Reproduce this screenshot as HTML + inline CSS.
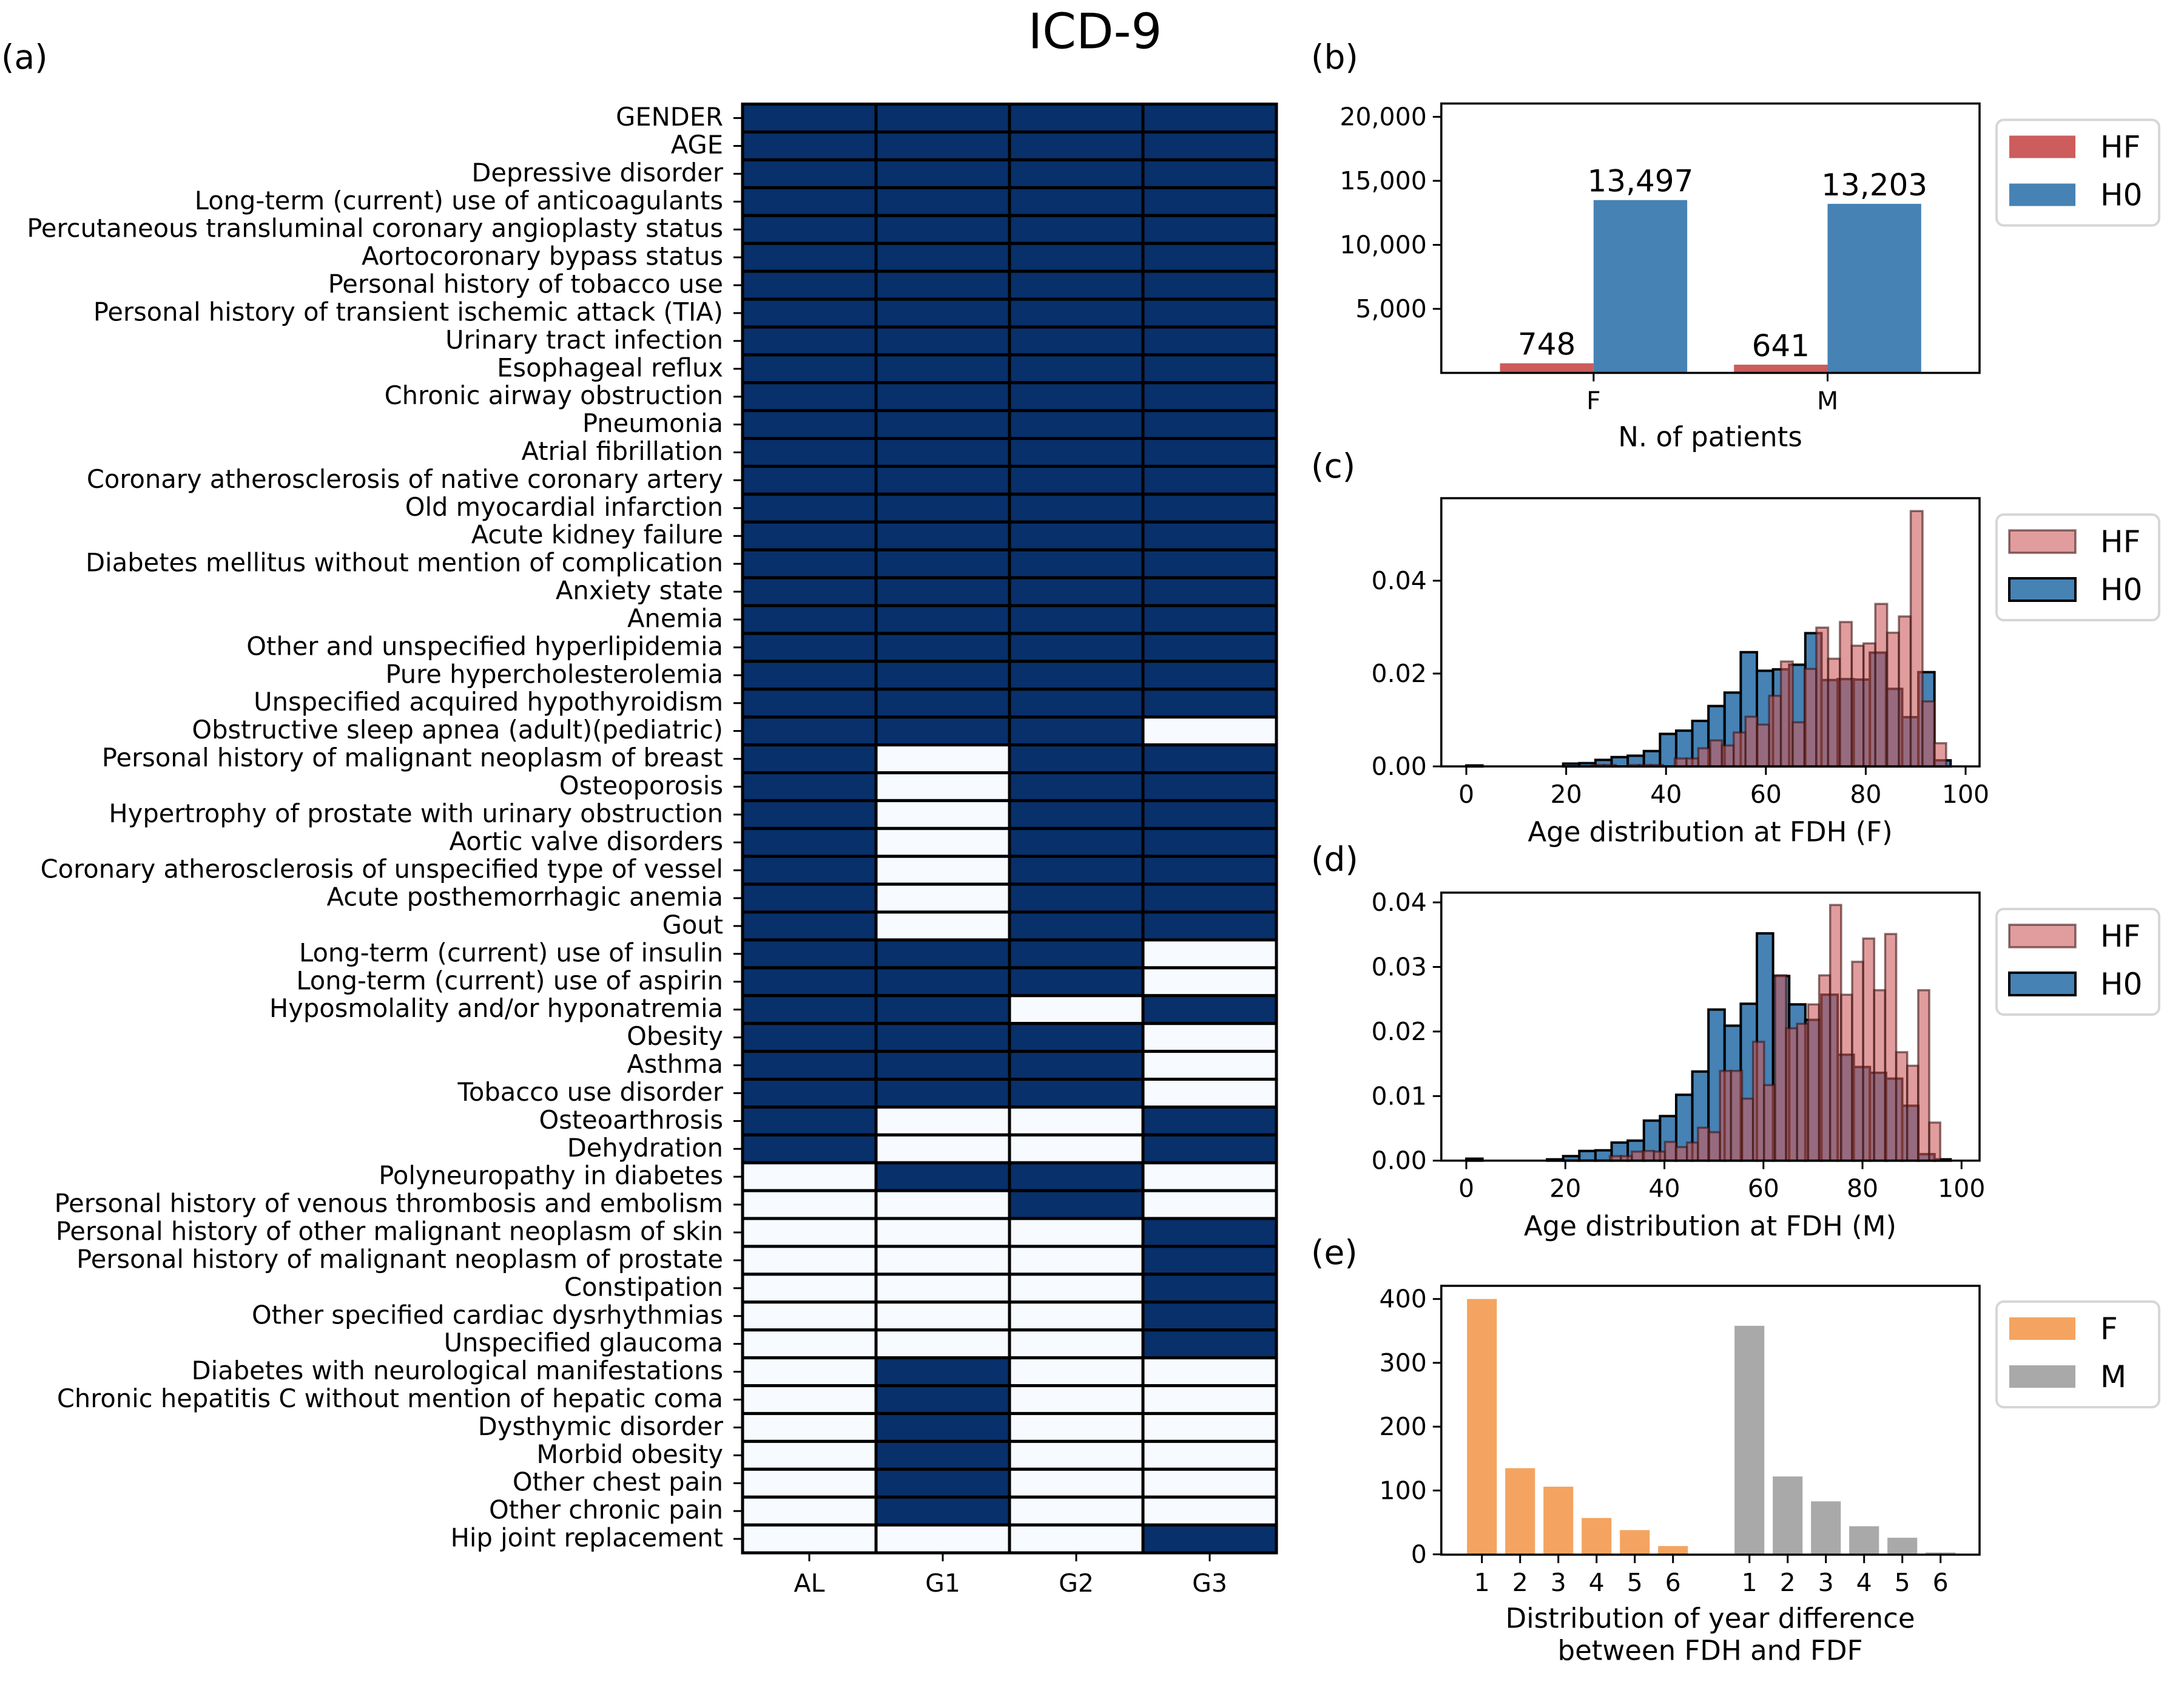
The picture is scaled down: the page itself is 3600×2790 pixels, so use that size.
<!DOCTYPE html>
<html><head><meta charset="utf-8"><style>
html,body{margin:0;padding:0;background:#fff;}
svg{display:block;}
text{font-family:"DejaVu Sans","Liberation Sans",sans-serif;fill:#000;}
</style></head><body>
<svg id="fig" xmlns="http://www.w3.org/2000/svg" width="3600" height="2790" viewBox="0 0 3600 2790">
<rect x="0" y="0" width="3600" height="2790" fill="#fff"/>
<text x="1805" y="52" font-size="80" text-anchor="middle" dominant-baseline="central">ICD-9</text>
<text x="2" y="94" font-size="55" dominant-baseline="central">(a)</text>
<text x="2161" y="94" font-size="55" dominant-baseline="central">(b)</text>
<text x="2161" y="768" font-size="55" dominant-baseline="central">(c)</text>
<text x="2161" y="1416" font-size="55" dominant-baseline="central">(d)</text>
<text x="2161" y="2064" font-size="55" dominant-baseline="central">(e)</text>
<g id="gA"></g>
<g id="gB"></g>
<g id="gC"></g>
<g id="gD"></g>
<g id="gE"></g>
</svg>
<script>
// ---------- data ----------
const rowLabels = ["GENDER","AGE","Depressive disorder","Long-term (current) use of anticoagulants","Percutaneous transluminal coronary angioplasty status","Aortocoronary bypass status","Personal history of tobacco use","Personal history of transient ischemic attack (TIA)","Urinary tract infection","Esophageal reflux","Chronic airway obstruction","Pneumonia","Atrial fibrillation","Coronary atherosclerosis of native coronary artery","Old myocardial infarction","Acute kidney failure","Diabetes mellitus without mention of complication","Anxiety state","Anemia","Other and unspecified hyperlipidemia","Pure hypercholesterolemia","Unspecified acquired hypothyroidism","Obstructive sleep apnea (adult)(pediatric)","Personal history of malignant neoplasm of breast","Osteoporosis","Hypertrophy of prostate with urinary obstruction","Aortic valve disorders","Coronary atherosclerosis of unspecified type of vessel","Acute posthemorrhagic anemia","Gout","Long-term (current) use of insulin","Long-term (current) use of aspirin","Hyposmolality and/or hyponatremia","Obesity","Asthma","Tobacco use disorder","Osteoarthrosis","Dehydration","Polyneuropathy in diabetes","Personal history of venous thrombosis and embolism","Personal history of other malignant neoplasm of skin","Personal history of malignant neoplasm of prostate","Constipation","Other specified cardiac dysrhythmias","Unspecified glaucoma","Diabetes with neurological manifestations","Chronic hepatitis C without mention of hepatic coma","Dysthymic disorder","Morbid obesity","Other chest pain","Other chronic pain","Hip joint replacement"];
const colLabels = ["AL","G1","G2","G3"];
const heatValues = [
[1,1,1,1],[1,1,1,1],[1,1,1,1],[1,1,1,1],[1,1,1,1],[1,1,1,1],[1,1,1,1],[1,1,1,1],[1,1,1,1],[1,1,1,1],[1,1,1,1],
[1,1,1,1],[1,1,1,1],[1,1,1,1],[1,1,1,1],[1,1,1,1],[1,1,1,1],[1,1,1,1],[1,1,1,1],[1,1,1,1],[1,1,1,1],[1,1,1,1],
[1,1,1,0],[1,0,1,1],[1,0,1,1],[1,0,1,1],[1,0,1,1],[1,0,1,1],[1,0,1,1],[1,0,1,1],
[1,1,1,0],[1,1,1,0],[1,1,0,1],[1,1,1,0],[1,1,1,0],[1,1,1,0],[1,0,0,1],[1,0,0,1],
[0,1,1,0],[0,0,1,0],[0,0,0,1],[0,0,0,1],[0,0,0,1],[0,0,0,1],[0,0,0,1],
[0,1,0,0],[0,1,0,0],[0,1,0,0],[0,1,0,0],[0,1,0,0],[0,1,0,0],[0,0,0,1]];

const sexCats = ["F","M"];
const hfCounts = [748, 641];
const h0Counts = [13497, 13203];
const bTicks = [5000,10000,15000,20000];

const cH0 = [0.0002,0,0,0,0,0,0.0006,0.0007,0.0014,0.002,0.0023,0.0033,0.007,0.0077,0.0098,0.013,0.0159,0.0246,0.0206,0.0209,0.0219,0.0287,0.0186,0.0188,0.0187,0.0245,0.0167,0.0106,0.0203,0.0013];
const cHF = [0.0003,0.0003,0,0.0003,0.0003,0.0003,0,0.0017,0.0017,0.0039,0.0056,0.0045,0.0073,0.0107,0.009,0.0152,0.0226,0.0095,0.021,0.0299,0.0232,0.0311,0.026,0.0265,0.035,0.0288,0.0323,0.055,0.014,0.005];
const cBins = {h0Start:0, h0End:97, hfStart:25.2, hfEnd:96.1};
const cYTicks = [0,0.02,0.04];
const dH0 = [0.0003,0,0,0,0,0.0002,0.0007,0.0015,0.0016,0.0028,0.0031,0.0062,0.0069,0.0102,0.0138,0.0234,0.0209,0.0243,0.0352,0.0286,0.0242,0.0218,0.0257,0.0164,0.0145,0.0136,0.0127,0.0085,0.001,0.0002];
const dHF = [0.0007,0.0007,0.0014,0.0015,0.0014,0.0029,0.0021,0.0028,0.0051,0.0044,0.0139,0.0139,0.0096,0.0184,0.0117,0.0287,0.0205,0.0212,0.0242,0.0287,0.0396,0.0257,0.0308,0.0344,0.0264,0.0351,0.0168,0.0147,0.0264,0.0059];
const dBins = {h0Start:0, h0End:97.8, hfStart:29.0, hfEnd:95.7};
const dYTicks = [0,0.01,0.02,0.03,0.04];
const ageTicks = [0,20,40,60,80,100];

const yearLabels = [1,2,3,4,5,6];
const yearF = [400,135,106,57,38,13];
const yearM = [358,122,83,44,26,3];
const eYTicks = [0,100,200,300,400];

// ---------- helpers ----------
const NS="http://www.w3.org/2000/svg";
function mk(parent, tag, attrs, txt){
  const el=document.createElementNS(NS,tag);
  for(const k in attrs) el.setAttribute(k,attrs[k]);
  if(txt!==undefined) el.textContent=txt;
  parent.appendChild(el); return el;
}
function frame(g, x0,y0,x1,y1){
  const r=mk(g,'rect',{x:x0,y:y0,width:x1-x0,height:y1-y0,fill:'none',stroke:'#000','stroke-width':3.5});
  
  
}
function yTick(g,x0,y,label){
  const l=mk(g,'line',{x1:x0-14,x2:x0,y1:y,y2:y,stroke:'#000','stroke-width':3});
  
  
  const t=mk(g,'text',{x:x0-24,y:y,'font-size':41,'text-anchor':'end','dominant-baseline':'central'},label);
  
  
}
function xTick(g,x,y0,label,fs){
  const l=mk(g,'line',{x1:x,x2:x,y1:y0,y2:y0+14,stroke:'#000','stroke-width':3});
  
  
  const t=mk(g,'text',{x:x,y:y0+46,'font-size':fs||41,'text-anchor':'middle','dominant-baseline':'central'},label);
  
  
}
function legend(g, top, items){
  const box=mk(g,'rect',{x:3291,y:top,width:268,height:174,rx:12,fill:'#fff',stroke:'#d6d6d6','stroke-width':4});
  
  
  items.forEach((it,i)=>{
    const py=top+26+i*79;
    const p=mk(g,'rect',{x:3312,y:py,width:109,height:37,fill:it.fill,stroke:it.stroke||'none','stroke-width':it.sw||0});
    
    
    const t=mk(g,'text',{x:3462,y:py+19,'font-size':50,'dominant-baseline':'central'},it.label);
    
    
  });
}
const fmt = v => v.toLocaleString('en-US');

// ---------- (a) heatmap ----------
(function(){
  const g=document.getElementById('gA');
  const x0=1224, x1=2104, y0=171.6, y1=2559;
  const cw=(x1-x0)/colLabels.length, rh=(y1-y0)/rowLabels.length;
  heatValues.forEach((row,r)=>{
    row.forEach((v,c)=>{
      const cell=mk(g,'rect',{x:x0+c*cw,y:y0+r*rh,width:cw,height:rh,fill:v?'#08306b':'#f7fbff',stroke:'#000','stroke-width':5});
      
      
    });
    const yc=y0+(r+0.5)*rh;
    const tk=mk(g,'line',{x1:x0-15,x2:x0,y1:yc,y2:yc,stroke:'#000','stroke-width':3});
    
    
    const t=mk(g,'text',{x:x0-32,y:yc-2,'font-size':41.6,'text-anchor':'end','dominant-baseline':'central'},rowLabels[r]);
    
    
  });
  colLabels.forEach((lab,c)=>{
    const xc=x0+(c+0.5)*cw;
    const tk=mk(g,'line',{x1:xc,x2:xc,y1:y1,y2:y1+14,stroke:'#000','stroke-width':3});
    
    
    const t=mk(g,'text',{x:xc,y:y1+50,'font-size':41,'text-anchor':'middle','dominant-baseline':'central'},lab);
    
    
  });
})();

// ---------- (b) bars ----------
(function(){
  const g=document.getElementById('gB');
  const X0=2375.8,X1=3263,Y0=170.6,Y1=614.5;
  const xB=c=>2626.8+c*385.7, yB=v=>Y1-v*105.5/5000, bw=154.3;
  sexCats.forEach((cat,i)=>{
    const b1=mk(g,'rect',{x:xB(i)-bw,y:yB(hfCounts[i]),width:bw,height:Y1-yB(hfCounts[i]),fill:'#cd5c5c'});
    
    
    const b2=mk(g,'rect',{x:xB(i),y:yB(h0Counts[i]),width:bw,height:Y1-yB(h0Counts[i]),fill:'#4682b4'});
    
    
    const a1=mk(g,'text',{x:xB(i)-bw/2,y:yB(hfCounts[i])-14,'font-size':50,'text-anchor':'middle'},fmt(hfCounts[i]));
    
    
    const a2=mk(g,'text',{x:xB(i)+bw/2,y:yB(h0Counts[i])-14,'font-size':50,'text-anchor':'middle'},fmt(h0Counts[i]));
    
    
    xTick(g,xB(i),Y1,cat);
  });
  bTicks.forEach(v=>yTick(g,X0,yB(v),fmt(v)));
  frame(g,X0,Y0,X1,Y1);
  const xl=mk(g,'text',{x:2819,y:720,'font-size':45,'text-anchor':'middle','dominant-baseline':'central'},'N. of patients');
  
  
  legend(g,197.5,[{label:'HF',fill:'#cd5c5c'},{label:'H0',fill:'#4682b4'}]);
})();

// ---------- (c),(d) histograms ----------
function hist(gid, h0, hf, bins, yTicks, Y0, Y1, x0px, pxPerUnit, yPerUnit, tickFmt, xlabel){
  const g=document.getElementById(gid);
  const X0=2375.8,X1=3263;
  const xS=a=>x0px+a*pxPerUnit, yS=v=>Y1-v*yPerUnit;
  const w0=(bins.h0End-bins.h0Start)/h0.length, w1=(bins.hfEnd-bins.hfStart)/hf.length;
  h0.forEach((v,i)=>{
    if(v<=0) return;
    const a=bins.h0Start+i*w0;
    const r=mk(g,'rect',{x:xS(a),y:yS(v),width:w0*pxPerUnit,height:Y1-yS(v),fill:'#4682b4',stroke:'#000','stroke-width':4});
    
    
  });
  hf.forEach((v,i)=>{
    if(v<=0) return;
    const a=bins.hfStart+i*w1;
    const r=mk(g,'rect',{x:xS(a),y:yS(v),width:w1*pxPerUnit,height:Y1-yS(v),fill:'rgba(205,92,92,0.6)',stroke:'rgba(60,20,20,0.6)','stroke-width':3.5});
    
    
  });
  yTicks.forEach(v=>yTick(g,X0,yS(v),v.toFixed(2)));
  ageTicks.forEach(v=>xTick(g,xS(v),Y1,String(v)));
  frame(g,X0,Y0,X1,Y1);
  const xl=mk(g,'text',{x:2819,y:Y1+108,'font-size':45,'text-anchor':'middle','dominant-baseline':'central'},xlabel);
  
  
  legend(g,Y0+27,[{label:'HF',fill:'rgba(205,92,92,0.6)',stroke:'rgba(60,20,20,0.6)',sw:3.5},{label:'H0',fill:'#4682b4',stroke:'#000',sw:4}]);
}
hist('gC',cH0,cHF,cBins,cYTicks,821,1263,2417,8.23,7650,null,'Age distribution at FDH (F)');
hist('gD',dH0,dHF,dBins,dYTicks,1471,1912.7,2417,8.163,10640,null,'Age distribution at FDH (M)');

// ---------- (e) year difference ----------
(function(){
  const g=document.getElementById('gE');
  const X0=2375.8,X1=3263,Y0=2119,Y1=2562;
  const xE=p=>2442.7+(p-1)*63, yE=v=>2561.5-v*1.052, bw=0.78*63;
  yearLabels.forEach((lab,i)=>{
    const pf=i+1, pm=i+8;
    const b1=mk(g,'rect',{x:xE(pf)-bw/2,y:yE(yearF[i]),width:bw,height:Y1-yE(yearF[i]),fill:'#f4a460'});
    
    
    const b2=mk(g,'rect',{x:xE(pm)-bw/2,y:yE(yearM[i]),width:bw,height:Y1-yE(yearM[i]),fill:'#a9a9a9'});
    
    
    xTick(g,xE(pf),Y1,String(lab));
    xTick(g,xE(pm),Y1,String(lab));
  });
  eYTicks.forEach(v=>yTick(g,X0,yE(v),String(v)));
  frame(g,X0,Y0,X1,Y1);
  const l1=mk(g,'text',{x:2819,y:2667,'font-size':45,'text-anchor':'middle','dominant-baseline':'central'},'Distribution of year difference');
  
  
  const l2=mk(g,'text',{x:2819,y:2720,'font-size':45,'text-anchor':'middle','dominant-baseline':'central'},'between FDH and FDF');
  
  
  legend(g,2145,[{label:'F',fill:'#f4a460'},{label:'M',fill:'#a9a9a9'}]);
})();
</script>
</body></html>
